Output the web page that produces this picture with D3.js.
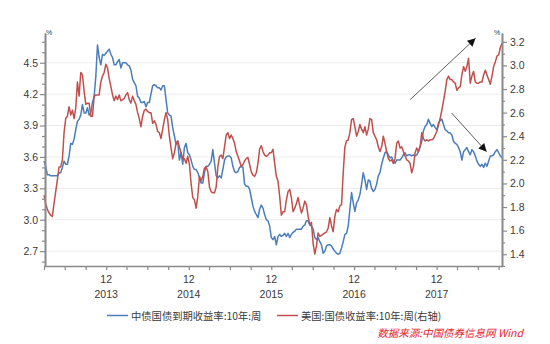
<!DOCTYPE html>
<html>
<head>
<meta charset="utf-8">
<script src="https://cdn.jsdelivr.net/npm/d3@7"></script>
<style>
  html, body { margin: 0; padding: 0; background: #fff; }
  svg { display: block; }
  text { font-family: "Liberation Sans", "Noto Sans CJK SC", sans-serif; }
</style>
</head>
<body>
<svg id="chart" width="550" height="344"></svg>
<script>
// Weekly 10-year government bond yields, evenly spaced observations over the period
const periodStart = new Date(2013, 2, 1);
const periodEnd = new Date(2018, 8, 16);

// China: ChinaBond 10Y treasury yield to maturity (left axis, %)
const chinaYield = [
  3.56,3.51,3.43,3.43,3.42,3.42,3.42,3.42,3.42,3.45, 3.45,3.50,3.56,3.53,3.53,3.61,3.73,3.72,3.77,3.86,
  3.94,3.96,4.00,4.10,4.02,4.02,4.07,4.00,4.02,4.12, 4.18,4.37,4.67,4.55,4.48,4.58,4.57,4.59,4.61,4.63,
  4.58,4.55,4.48,4.48,4.51,4.53,4.45,4.50,4.50,4.50, 4.48,4.47,4.43,4.34,4.31,4.28,4.18,4.16,
  4.12,4.12,4.13,4.08,4.12,4.12,4.20,4.28,4.29,4.28, 4.26,4.26,4.24,4.28,4.28,4.15,4.02,4.00,3.99,3.88,
  3.80,3.72,3.75,3.57,3.64,3.53,3.69,3.73,3.64,3.62, 3.57,3.51,3.48,3.48,3.45,3.40,3.35,3.35,3.45,3.51,
  3.51,3.53,3.56,3.67,3.54,3.42,3.40,3.42,3.40,3.48, 3.57,3.60,3.61,3.61,3.59,
  3.51,3.46,3.45,3.46,3.50,3.51,3.50,3.34,3.32,3.32, 3.29,3.21,3.13,3.08,3.05,3.02,3.10,3.14,3.11,3.05,
  3.00,2.99,2.94,2.83,2.81,2.84,2.76,2.84,2.86,2.84, 2.85,2.87,2.84,2.87,2.83,2.86,2.88,2.89,2.91,2.91,
  2.91,2.91,2.94,2.95,2.99,2.99,2.95,2.94,2.91,2.83, 2.81,2.83,2.79,2.76,2.68,
  2.70,2.75,2.76,2.76,2.75,2.72,2.70,2.68,2.67,2.68, 2.73,2.79,2.86,2.87,2.94,3.10,3.26,3.16,3.08,3.16,
  3.19,3.24,3.34,3.45,3.38,3.29,3.38,3.37,3.30,3.27, 3.29,3.34,3.42,3.45,3.53,3.59,3.64,3.65,3.62,3.59,
  3.60,3.56,3.54,3.57,3.57,3.57,3.59,3.62,3.64,3.61, 3.62,3.62,3.61,3.62,3.61,
  3.62,3.65,3.70,3.75,3.85,3.89,3.91,3.96,3.92,3.89, 3.91,3.88,3.86,3.92,3.95,3.96,3.91,3.86,3.85,3.83,
  3.83,3.81,3.75,3.73,3.72,3.69,3.65,3.57,3.65,3.67, 3.69,3.65,3.62,3.67,3.65,3.61,3.56,3.53,3.51,3.53,
  3.50,3.54,3.51,3.56,3.61,3.61,3.62,3.65,3.67,3.64, 3.61,3.59
];

// United States: 10Y treasury yield (right axis, %)
const usYield = [
  1.90,1.83,1.78,1.75,1.73,1.72,1.83,1.93,2.03,2.14, 2.14,2.20,2.43,2.55,2.57,2.65,2.58,2.62,2.55,2.64,
  2.86,2.74,2.94,2.92,2.78,2.67,2.68,2.68,2.57,2.57, 2.74,2.75,2.75,2.75,2.86,2.91,2.94,3.01,2.98,2.89,
  2.82,2.75,2.70,2.74,2.71,2.75,2.70,2.71,2.72,2.75, 2.77,2.71,2.68,2.74,2.70,2.67,2.60,2.55,
  2.48,2.57,2.62,2.63,2.61,2.60,2.60,2.51,2.53,2.50, 2.44,2.43,2.38,2.46,2.54,2.60,2.54,2.40,2.30,2.21,
  2.26,2.34,2.36,2.31,2.26,2.21,2.21,2.17,2.23,2.16, 2.00,1.88,1.86,1.79,1.89,2.06,2.02,2.06,2.13,2.14,
  2.10,1.97,1.93,1.92,1.92,1.97,2.14,2.23,2.24,2.21, 2.31,2.41,2.43,2.38,2.41,
  2.38,2.34,2.27,2.23,2.19,2.14,2.16,2.19,2.21,2.22, 2.16,2.10,2.07,2.06,2.09,2.17,2.29,2.32,2.27,2.24,
  2.23,2.24,2.26,2.26,2.29,2.17,2.06,2.02,1.89,1.73, 1.76,1.76,1.86,1.93,1.95,1.88,1.76,1.79,1.83,1.88,
  1.81,1.75,1.79,1.85,1.82,1.72,1.65,1.67,1.49,1.40, 1.47,1.58,1.55,1.56,1.57,
  1.58,1.59,1.62,1.71,1.64,1.59,1.72,1.78,1.76,1.81, 1.82,2.09,2.31,2.36,2.37,2.43,2.54,2.55,2.48,2.40,
  2.44,2.50,2.46,2.43,2.48,2.41,2.46,2.55,2.54,2.43, 2.40,2.37,2.31,2.27,2.31,2.40,2.34,2.27,2.21,2.19,
  2.20,2.17,2.21,2.34,2.36,2.30,2.31,2.27,2.23,2.20, 2.19,2.17,2.09,2.14,2.26,
  2.30,2.27,2.31,2.43,2.38,2.36,2.37,2.36,2.37,2.37, 2.38,2.41,2.44,2.50,2.55,2.62,2.70,2.78,2.88,2.91,
  2.88,2.88,2.86,2.85,2.79,2.81,2.82,2.92,2.99,2.95, 2.99,3.06,2.85,2.91,2.95,2.86,2.85,2.85,2.86,2.86,
  2.92,2.96,2.92,2.88,2.84,2.91,2.99,3.03,3.08,3.09, 3.15,3.19
];

const leftTicks = [2.7, 3.0, 3.3, 3.6, 3.9, 4.2, 4.5];
const rightTicks = [1.4, 1.6, 1.8, 2.0, 2.2, 2.4, 2.6, 2.8, 3.0, 3.2];
const yearLabels = ["2013", "2014", "2015", "2016", "2017"];
const seriesNames = ["中债国债到期收益率:10年:周", "美国:国债收益率:10年:周(右轴)"];
const sourceNote = "数据来源:中国债券信息网 Wind";

// Trend arrows: [start date, start value, end date, end value, axis]
const trendArrows = [
  [new Date(2017, 7, 6), 2.71, new Date(2018, 4, 22), 3.23, "right"],
  [new Date(2018, 1, 5), 4.02, new Date(2018, 6, 10), 3.65, "left"]
];

const N = chinaYield.length;
const span = periodEnd - periodStart;
const dates = d3.range(N).map(i => new Date(+periodStart + i * span / (N - 1)));

const colors = { china: "#4a7ebb", us: "#c0504d", axis: "#8a8a8a", grid: "#ececec", text: "#3a3a3a" };

const svg = d3.select("#chart");
const plot = { left: 45, right: 502, top: 33, bottom: 266 };

const x = d3.scaleTime().domain([periodStart, periodEnd]).range([44, plot.right]);
const yL = d3.scaleLinear().domain([2.558, 4.784]).range([plot.bottom, plot.top]);
const yR = d3.scaleLinear().domain([1.3, 3.275]).range([plot.bottom, plot.top]);

// horizontal gridlines at the left-axis major ticks
svg.append("g").selectAll("line").data(leftTicks).join("line")
  .attr("x1", plot.left).attr("x2", plot.right)
  .attr("y1", d => yL(d)).attr("y2", d => yL(d))
  .attr("stroke", colors.grid).attr("stroke-width", 1);

// series lines
const lineL = d3.line().x((d, i) => x(dates[i])).y(d => yL(d));
const lineR = d3.line().x((d, i) => x(dates[i])).y(d => yR(d));
svg.append("path").datum(chinaYield).attr("d", lineL)
  .attr("fill", "none").attr("stroke", colors.china).attr("stroke-width", 1.5).attr("stroke-linejoin", "round");
svg.append("path").datum(usYield).attr("d", lineR)
  .attr("fill", "none").attr("stroke", colors.us).attr("stroke-width", 1.5).attr("stroke-linejoin", "round");

function styleAxis(g) {
  g.select(".domain").attr("stroke", colors.axis).attr("stroke-width", 1.6);
  g.selectAll(".tick line").attr("stroke", colors.axis).attr("stroke-width", 1.2);
  g.selectAll("text").attr("fill", colors.text).style("font-size", "10.5px");
}

// left axis: minor ticks every 0.1, labelled major ticks every 0.3
const leftMinor = d3.range(26, 48).map(v => v / 10).filter(v => !leftTicks.some(t => Math.abs(t - v) < 1e-6));
svg.append("g").attr("transform", `translate(${plot.left},0)`)
  .call(d3.axisLeft(yL).tickValues(leftMinor).tickSize(3).tickFormat("").tickSizeOuter(0))
  .call(styleAxis);
svg.append("g").attr("transform", `translate(${plot.left},0)`)
  .call(d3.axisLeft(yL).tickValues(leftTicks).tickSize(5).tickPadding(2).tickFormat(d3.format(".1f")).tickSizeOuter(0))
  .call(styleAxis);

// right axis: minor ticks at odd tenths, labelled major ticks every 0.2
const rightMinor = d3.range(13, 33, 2).map(v => v / 10);
svg.append("g").attr("transform", `translate(${plot.right},0)`)
  .call(d3.axisRight(yR).tickValues(rightMinor).tickSize(3).tickFormat("").tickSizeOuter(0))
  .call(styleAxis);
svg.append("g").attr("transform", `translate(${plot.right},0)`)
  .call(d3.axisRight(yR).tickValues(rightTicks).tickSize(5).tickPadding(3).tickFormat(d3.format(".1f")).tickSizeOuter(0))
  .call(styleAxis);

// bottom axis: quarter-end month ticks (Mar, Jun, Sep, Dec); December labelled with month and year
const quarterTicks = d3.timeMonth.range(periodStart, periodEnd).filter(d => d.getMonth() % 3 === 2);
svg.append("g").attr("transform", `translate(0,${plot.bottom})`)
  .call(d3.axisBottom(x).tickValues(quarterTicks).tickSize(4).tickFormat("").tickSizeOuter(0))
  .call(styleAxis);
const decTicks = quarterTicks.filter(d => d.getMonth() === 11);
const xl = svg.append("g");
xl.selectAll("text.m").data(decTicks).join("text").attr("class", "m")
  .attr("x", d => x(d)).attr("y", 283).attr("text-anchor", "middle")
  .attr("fill", colors.text).style("font-size", "10.5px").text("12");
xl.selectAll("text.yr").data(decTicks).join("text").attr("class", "yr")
  .attr("x", d => x(d)).attr("y", 298).attr("text-anchor", "middle")
  .attr("fill", colors.text).style("font-size", "10.5px").text((d, i) => yearLabels[i]);

// unit labels
svg.append("text").attr("x", 46).attr("y", 35).attr("fill", colors.text).style("font-size", "7px").text("%");
svg.append("text").attr("x", 494).attr("y", 35).attr("fill", colors.text).style("font-size", "7px").text("%");

// trend arrows
svg.append("defs").append("marker")
  .attr("id", "head").attr("viewBox", "0 0 10 10").attr("refX", 10).attr("refY", 5)
  .attr("markerWidth", 11).attr("markerHeight", 8).attr("markerUnits", "userSpaceOnUse")
  .attr("orient", "auto")
  .append("path").attr("d", "M0,0 L10,5 L0,10 Z").attr("fill", "#111");
svg.append("g").selectAll("line").data(trendArrows).join("line")
  .attr("x1", d => x(d[0])).attr("y1", d => (d[4] === "right" ? yR : yL)(d[1]))
  .attr("x2", d => x(d[2])).attr("y2", d => (d[4] === "right" ? yR : yL)(d[3]))
  .attr("stroke", "#333").attr("stroke-width", 0.8).attr("marker-end", "url(#head)");

// legend
const legend = svg.append("g").style("font-size", "10.3px");
const legendItems = [
  { x: 107, color: colors.china, name: seriesNames[0] },
  { x: 277, color: colors.us, name: seriesNames[1] }
];
legendItems.forEach(it => {
  legend.append("line").attr("x1", it.x).attr("x2", it.x + 21).attr("y1", 315.5).attr("y2", 315.5)
    .attr("stroke", it.color).attr("stroke-width", 1.5);
  legend.append("text").attr("x", it.x + 24).attr("y", 319.5).attr("fill", colors.text)
    .style("font-family", "'Noto Sans CJK SC', sans-serif").text(it.name);
});

// source note
svg.append("text").attr("x", 523).attr("y", 337).attr("text-anchor", "end")
  .attr("fill", "#e8202a").style("font-size", "10.5px").style("font-style", "italic")
  .style("font-family", "'Noto Sans CJK SC', sans-serif").text(sourceNote);
</script>
</body>
</html>
